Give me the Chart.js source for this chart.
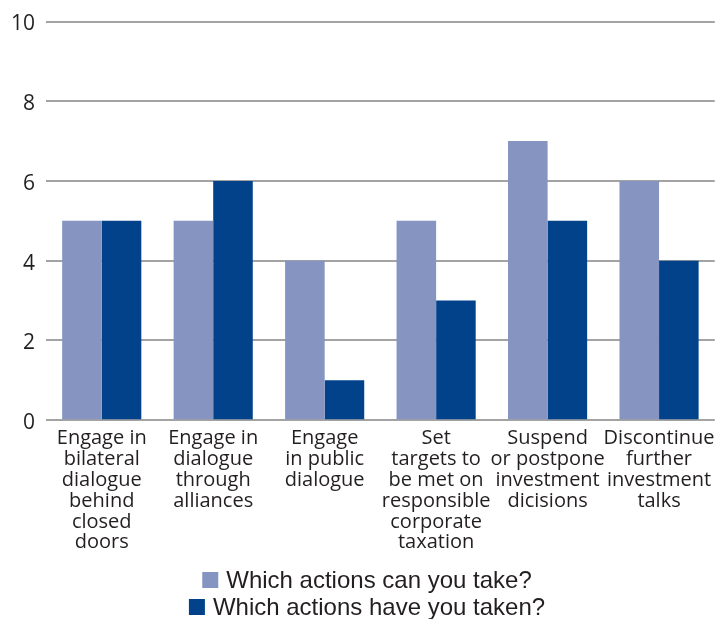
<!DOCTYPE html>
<html>
<head>
<meta charset="utf-8">
<script src="https://cdn.jsdelivr.net/npm/chart.js@4/dist/chart.umd.min.js"></script>
<style>
  html, body { margin: 0; padding: 0; background: #fff; }
  #wrap { width: 723px; height: 619px; position: relative; }
</style>
</head>
<body>
<div id="wrap"><canvas id="chart"></canvas></div>
<script>
// Categories (multi-line axis labels)
const categories = [
    ["Engage in", "bilateral", "dialogue", "behind", "closed", "doors"],
    ["Engage in", "dialogue", "through", "alliances"],
    ["Engage", "in public", "dialogue"],
    ["Set", "targets to", "be met on", "responsible", "corporate", "taxation"],
    ["Suspend", "or postpone", "investment", "dicisions"],
    ["Discontinue", "further", "investment", "talks"]
];
const canTake = [5, 5, 4, 5, 7, 6];
const haveTaken = [5, 6, 1, 3, 5, 4];
const seriesNames = ["Which actions can you take?", "Which actions have you taken?"];
const yTicks = [0, 2, 4, 6, 8, 10];

const LIGHT = "#8694c2";
const DARK = "#01428b";
const TEXT = "#231f20";
const FONT = "'Open Sans', 'Noto Sans', sans-serif";

// Stacked two-row legend drawn under the axis labels
const rowLegend = {
    id: "rowLegend",
    afterDraw(c) {
        const ctx = c.ctx;
        const rows = [{ y: 580, color: LIGHT, text: seriesNames[0] },
                      { y: 607, color: DARK, text: seriesNames[1] }];
        ctx.save();
        ctx.font = "24px 'Liberation Sans', Arial, sans-serif";
        ctx.textBaseline = "middle";
        rows.forEach(r => {
            const box = 16, gap = 8;
            const w = box + gap + ctx.measureText(r.text).width;
            const x = 367 - w / 2;
            ctx.fillStyle = r.color;
            ctx.fillRect(x, r.y - box / 2, box, box);
            ctx.fillStyle = TEXT;
            ctx.fillText(r.text, x + box + gap, r.y + 1);
        });
        ctx.restore();
    }
};

new Chart(document.getElementById("chart"), {
    type: "bar",
    data: {
        labels: categories,
        datasets: [
            { label: seriesNames[0], data: canTake, backgroundColor: LIGHT },
            { label: seriesNames[1], data: haveTaken, backgroundColor: DARK }
        ]
    },
    options: {
        responsive: true,
        maintainAspectRatio: false,
        animation: false,
        layout: { padding: { top: 19, right: 6, bottom: 58, left: 0 } },
        datasets: { bar: { categoryPercentage: 0.71, barPercentage: 1.0 } },
        plugins: {
            legend: { display: false },
            tooltip: { enabled: false }
        },
        scales: {
            x: {
                grid: { display: false, drawTicks: false },
                border: { display: false },
                ticks: {
                    color: TEXT,
                    font: { family: FONT, size: 20, lineHeight: 1.04 },
                    padding: 8,
                    maxRotation: 0,
                    autoSkip: false
                }
            },
            y: {
                min: 0,
                max: 10,
                afterBuildTicks: s => { s.ticks = yTicks.map(v => ({ value: v })); },
                grid: { color: "#a3a3a3", lineWidth: 2, drawTicks: false },
                border: { display: false },
                ticks: {
                    color: TEXT,
                    font: { family: FONT, size: 21, lineHeight: 1 },
                    padding: 11,
                    labelOffset: 3
                }
            }
        }
    },
    plugins: [rowLegend]
});
</script>
</body>
</html>
